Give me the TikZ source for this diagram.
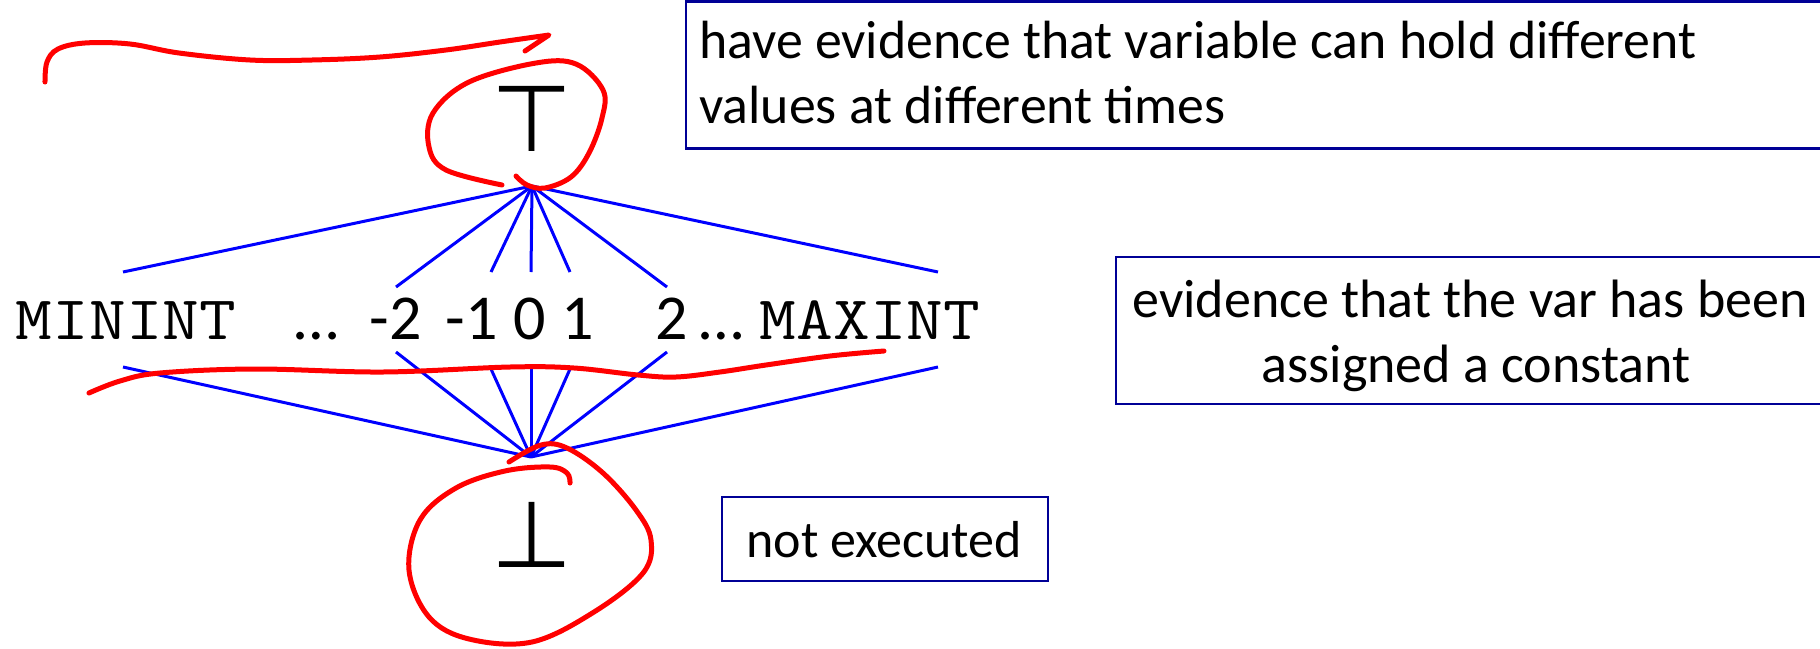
\documentclass[tikz,border=0pt]{standalone}
\usepackage{fontspec}
\usepackage{graphicx}
\setmainfont{Carlito}
\newfontfamily\symf{DejaVu Sans}
\definecolor{boxblue}{RGB}{0,0,150}
\definecolor{latblue}{RGB}{0,0,255}
\definecolor{inkred}{RGB}{255,0,0}
\newcommand{\monotxt}[1]{\scalebox{1.15}[1]{\ttfamily\fontsize{62}{70}\selectfont #1}}
\tikzset{
  boxline/.style={draw=boxblue, line width=2.5pt},
  txt/.style={inner sep=0pt, font=\fontsize{52}{65}\selectfont},
  txtt/.style={inner sep=0pt, font=\fontsize{53.8}{65}\selectfont},
  txtb/.style={inner sep=0pt, font=\fontsize{54}{65}\selectfont},
  num/.style={inner sep=0pt, anchor=base, font=\fontsize{64}{70}\selectfont},
  mono/.style={inner sep=0pt, anchor=base},
  sym/.style={inner sep=0pt, anchor=base, font=\symf\fontsize{93}{100}\selectfont},
  edge/.style={draw=latblue, line width=3pt},
  ink/.style={draw=inkred, line width=5pt, line cap=round, line join=round}
}
\begin{document}
\begin{tikzpicture}[x=1pt,y=-1pt]
\useasboundingbox (0,0) rectangle (1820,648);
% boxes
\draw[boxline] (686,1.3) rectangle (1830,148.7);
\draw[boxline] (1116,257) rectangle (1830,404);
\draw[boxline] (722,497) rectangle (1048,581);
% box texts
\node[txtt, anchor=base west] (tt1) at (699,58) {have evidence that variable can hold different};
\node[txtt, anchor=base west] (tt2) at (699,123) {values at different times};
\node[txtb, anchor=base] (mt1) at (1470,317) {evidence that the var has been};
\node[txtb, anchor=base] (mt2) at (1476,382) {assigned a constant};
\node[txt, anchor=base] (ne) at (884,557) {not executed};
% lattice symbols
\node[sym] (top) at (532,151) {⊤};
\node[sym] (bot) at (532,567) {⊥};
% row labels
\node[mono] (minint) at (126,339) {\monotxt{MININT}};
\node[num] (dl) at (317,339) {…};
\node[num] (m2) at (396,339) {-2};
\node[num] (m1) at (472,339) {-1};
\node[num] (z0) at (530,339) {0};
\node[num] (p1) at (578,339) {1};
\node[num] (p2) at (672,339) {2};
\node[num] (dr) at (722,339) {…};
\node[mono] (maxint) at (870,339) {\monotxt{MAXINT}};
% connector end points
\coordinate (tj) at (532,186);
\coordinate (bj) at (531,457);
\coordinate (u1) at (123,272); \coordinate (l1) at (123,367);
\coordinate (u2) at (396,287); \coordinate (l2) at (396,352);
\coordinate (u3) at (491,272); \coordinate (l3) at (491,369);
\coordinate (u4) at (531,272); \coordinate (l4) at (531,369);
\coordinate (u5) at (570,272); \coordinate (l5) at (570,369);
\coordinate (u6) at (667,287); \coordinate (l6) at (667,352);
\coordinate (u7) at (938,272); \coordinate (l7) at (938,367);
\foreach \i in {1,...,7}{
  \draw[edge] (tj) -- (u\i);
  \draw[edge] (bj) -- (l\i);
}
% red ink annotations
\draw[ink] plot[smooth, tension=0.6] coordinates {(45,82) (47,62) (58,49) (85,43) (130,44) (179,53) (250,60) (312,60) (380,57) (446,50) (500,42) (549,35)} -- (525,51);
\draw[ink] plot[smooth, tension=0.6] coordinates {(502,185) (446,170) (429,147) (433,113) (469,82) (536,63) (576,64) (603,90) (602,118) (589,153) (571,177) (545,188) (527,185) (516,176)};
\draw[ink] plot[smooth, tension=0.6] coordinates {(89,393) (120,381) (160,373) (255,369) (383,372) (510,367) (574,368) (638,375) (676,377) (720,372) (766,365) (830,356) (884,351)};
\draw[ink] plot[smooth, tension=0.6] coordinates {(509,462) (541,445) (567,448) (603,473) (636,510) (651,540) (643,573) (594,612) (532,642) (469,639) (429,617) (409,570) (420,520) (456,488) (505,471) (550,467) (567,473) (570,483)};
\end{tikzpicture}
\end{document}
